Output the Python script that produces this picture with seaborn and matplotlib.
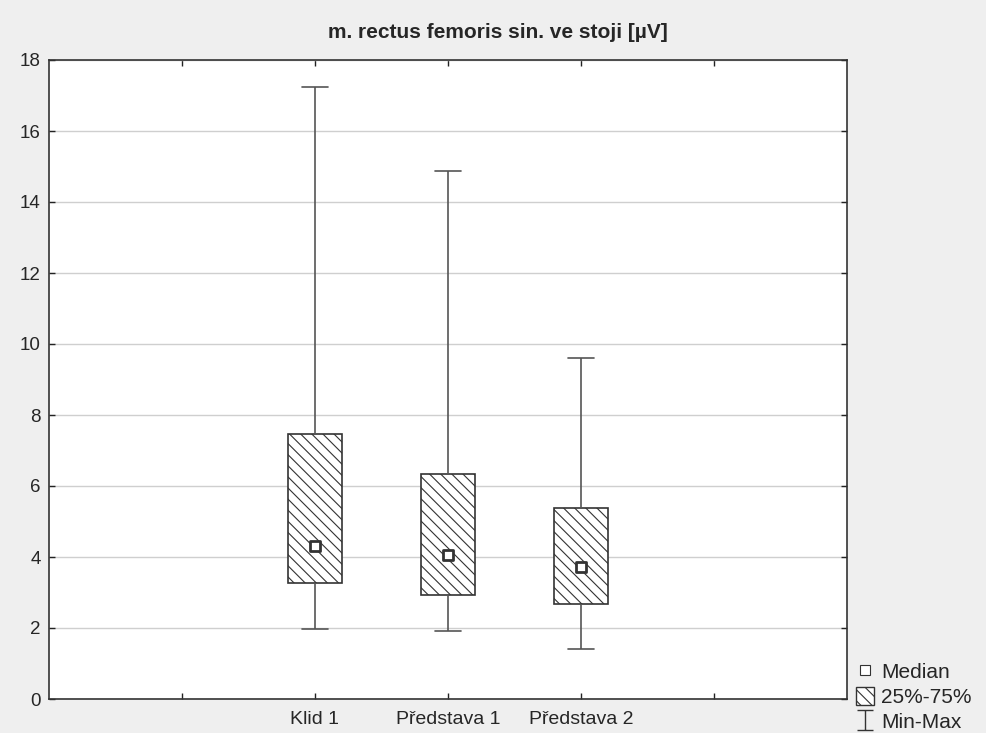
import numpy as np
import pandas as pd
import matplotlib
matplotlib.use("Agg")
import matplotlib.pyplot as plt
from matplotlib.path import Path
from matplotlib.lines import Line2D
from matplotlib.patches import Patch
import seaborn as sns

# ---- data ----
categories = ["Klid 1", "Představa 1", "Představa 2"]
positions = [2, 3, 4]
mins = [1.98, 1.92, 1.42]
q1s = [3.27, 2.93, 2.68]
medians = [4.32, 4.06, 3.73]
q3s = [7.46, 6.35, 5.39]
maxs = [17.24, 14.88, 9.60]
tick_positions = [1, 2, 3, 4, 5]
tick_labels = ["", "Klid 1", "Představa 1", "Představa 2", ""]
yticks = [0, 2, 4, 6, 8, 10, 12, 14, 16, 18]

sns.set_style("white")
plt.rcParams["font.family"] = ["Liberation Sans", "DejaVu Sans"]
plt.rcParams["hatch.linewidth"] = 0.8
plt.rcParams["hatch.color"] = "#3a3a3a"

# five points per group so that quartiles are exact (linear percentiles)
rows = []
for p, a, b, c, d, e in zip(positions, mins, q1s, medians, q3s, maxs):
    for v in (a, b, c, d, e):
        rows.append({"pos": p, "val": v})
df = pd.DataFrame(rows)

fig = plt.figure(figsize=(9.86, 7.33), dpi=100, facecolor="#efefef")
ax = fig.add_axes([49 / 986, 1 - 699 / 733, (847 - 49) / 986, (699 - 60) / 733])
ax.set_facecolor("white")

edge = "#333333"
sns.boxplot(data=df, x="pos", y="val", native_scale=True, whis=(0, 100),
            width=0.4, showfliers=False, color="white", linecolor=edge,
            linewidth=1.2, medianprops=dict(linewidth=0, alpha=0),
            capprops=dict(color="#555555"), whiskerprops=dict(color="#555555"),
            ax=ax, zorder=3)
for p in ax.patches:
    p.set_hatch("\\\\\\")
    p.set_edgecolor(edge)

sns.scatterplot(x=positions, y=medians, marker="s", s=60, color="white",
                edgecolor=edge, linewidth=2.0, ax=ax, zorder=5)

ax.set_xlim(0, 6)
ax.set_ylim(0, 18)
ax.set_xticks(tick_positions)
ax.set_xticklabels(tick_labels, fontsize=14)
ax.set_yticks(yticks)
ax.set_yticklabels([str(v) for v in yticks], fontsize=13.5)
ax.set_xlabel("")
ax.set_ylabel("")
ax.yaxis.grid(True, color="#cfcfcf", linewidth=1)
ax.set_axisbelow(True)
ax.tick_params(direction="in", length=4, width=1, color="#222222",
               top=True, right=True, bottom=True, left=True)
ax.tick_params(axis="x", pad=9)
ax.tick_params(axis="y", pad=6)
for s in ax.spines.values():
    s.set_color("#333333")
    s.set_linewidth(1.2)

fig.suptitle("m. rectus femoris sin. ve stoji [µV]", x=0.505, y=0.968,
             fontsize=15, fontweight="bold")

ibar = Path([(-0.75, 1), (0.75, 1), (0, 1), (0, -1), (-0.75, -1), (0.75, -1)],
            [Path.MOVETO, Path.LINETO, Path.MOVETO, Path.LINETO, Path.MOVETO, Path.LINETO])
handles = [
    Line2D([], [], marker="s", linestyle="none", markersize=7,
           markerfacecolor="white", markeredgecolor=edge, markeredgewidth=0.8),
    Patch(facecolor="white", edgecolor=edge, hatch="\\\\\\"),
    Line2D([], [], marker=ibar, linestyle="none", markersize=15,
           markeredgecolor=edge, markeredgewidth=1, color=edge),
]
fig.legend(handles, ["Median", "25%-75%", "Min-Max"], loc="lower left",
           bbox_to_anchor=(853 / 986, -0.003), frameon=False, fontsize=15,
           handlelength=0.85, handleheight=1.0, handletextpad=0.35,
           labelspacing=0.22, borderaxespad=0.0, borderpad=0.15)

fig.savefig("out.png", dpi=100, facecolor=fig.get_facecolor())
